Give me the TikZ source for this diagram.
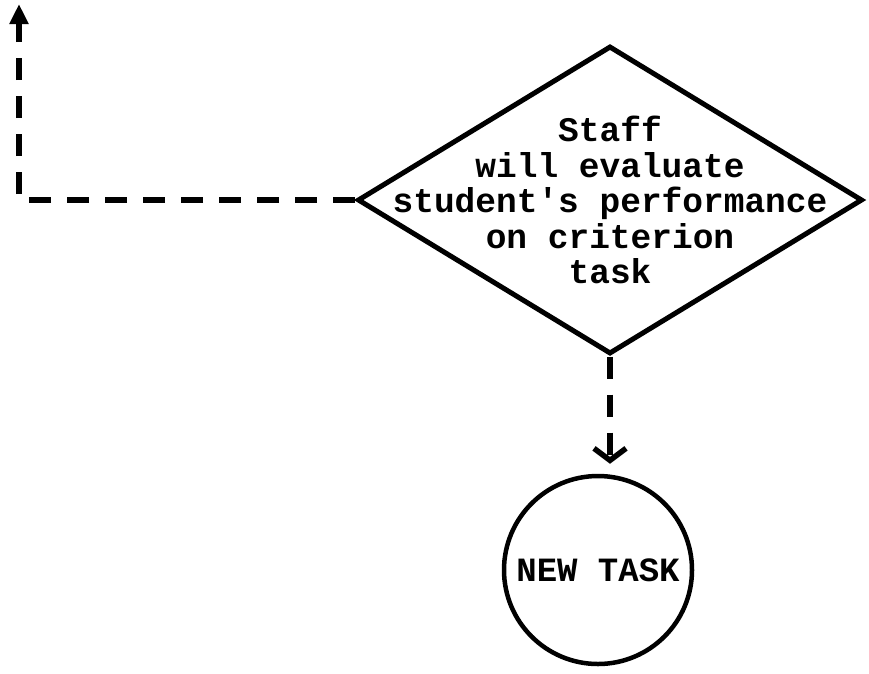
\documentclass[tikz,border=0pt]{standalone}
\usepackage{fontspec}
\setmonofont{Liberation Mono}
\usetikzlibrary{shapes.geometric,arrows.meta,positioning}

\begin{document}
\begin{tikzpicture}[x=1pt,y=-1pt,line width=5pt,
   decision/.style={draw,diamond,minimum width=505pt,minimum height=308pt,inner sep=0pt},
   words/.style={align=center,font=\ttfamily\bfseries\fontsize{34.5}{35.5}\selectfont},
   task/.style={draw,circle,minimum size=188pt,line width=4.5pt,inner sep=0pt,
      font=\ttfamily\bfseries\fontsize{34}{36}\selectfont},
   flow/.style={dash pattern=on 22pt off 16pt,line width=5.5pt}]
   \useasboundingbox (0,0) rectangle (869,673);
   \node[decision] (eval) at (610,200) {};
   \node[words] (evaltext) at (eval.center) {Staff\\will evaluate\\student's performance\\on criterion\\task};
   \node[task] (new) at (598,570) {NEW TASK};
   \coordinate (back) at (19,4);
   \draw[flow,-{Triangle[length=20pt,width=18pt]}] (eval.west) -| (back);
   \draw[flow,shorten >=10pt,-{Straight Barb[length=12pt,width=32pt,line width=5.5pt]}]
      (eval.south) -- (eval.south |- new.north);
\end{tikzpicture}
\end{document}
